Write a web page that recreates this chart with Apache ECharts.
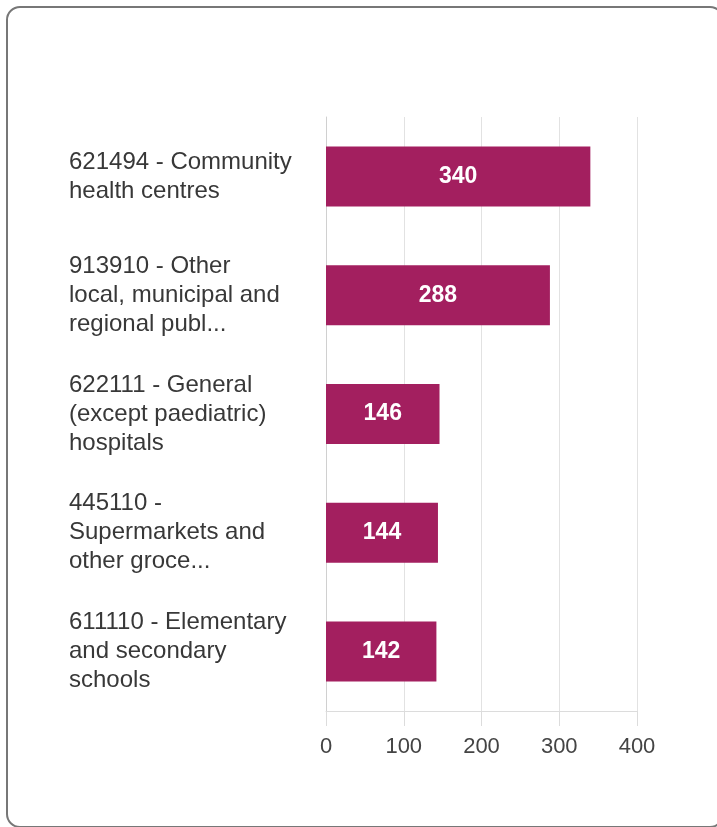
<!DOCTYPE html>
<html>
<head>
<meta charset="utf-8">
<script src="https://cdn.jsdelivr.net/npm/echarts@6/dist/echarts.min.js"></script>
<style>
html,body{margin:0;padding:0;background:#fff;width:717px;height:827px;overflow:hidden;}
#card{position:absolute;left:6px;top:6px;width:718px;height:822px;border:2px solid #777;border-radius:14px;box-sizing:border-box;}
#chart{position:absolute;left:0;top:0;width:717px;height:827px;}
</style>
</head>
<body>
<div id="card"></div>
<div id="chart"></div>
<script>
const categories = [
  "621494 - Community\nhealth centres",
  "913910 - Other\nlocal, municipal and\nregional publ...",
  "622111 - General\n(except paediatric)\nhospitals",
  "445110 -\nSupermarkets and\nother groce...",
  "611110 - Elementary\nand secondary\nschools"
];
const values = [340, 288, 146, 144, 142];
const xTicks = [0, 100, 200, 300, 400];

const chart = echarts.init(document.getElementById('chart'), null, {renderer: 'canvas'});
chart.setOption({
  animation: false,
  backgroundColor: 'transparent',
  grid: {left: 326, right: 80, top: 117, bottom: 116, containLabel: false},
  xAxis: {
    type: 'value',
    min: xTicks[0],
    max: xTicks[xTicks.length - 1],
    interval: xTicks[1] - xTicks[0],
    axisLine: {show: true, lineStyle: {color: '#dcdcdc', width: 1}},
    axisTick: {show: true, length: 15, lineStyle: {color: '#dcdcdc', width: 1}},
    splitLine: {show: true, lineStyle: {color: '#e2e2e2', width: 1}},
    axisLabel: {color: '#444', fontSize: 22, fontFamily: 'Liberation Sans, Arial, sans-serif', margin: 25}
  },
  yAxis: {
    type: 'category',
    data: categories,
    inverse: true,
    axisLine: {show: true, lineStyle: {color: '#d0d0d0', width: 1}},
    axisTick: {show: false},
    splitLine: {show: false},
    axisLabel: {
      color: '#383838', fontSize: 24, lineHeight: 29, align: 'left', margin: 257,
      fontFamily: 'Liberation Sans, Arial, sans-serif'
    }
  },
  series: [{
    type: 'bar',
    data: values,
    barWidth: '50.5%',
    itemStyle: {color: '#A31F5F'},
    label: {
      show: true, position: 'inside', color: '#fff', fontWeight: 'bold', fontSize: 23,
      fontFamily: 'Liberation Sans, Arial, sans-serif'
    }
  }]
});
</script>
</body>
</html>
